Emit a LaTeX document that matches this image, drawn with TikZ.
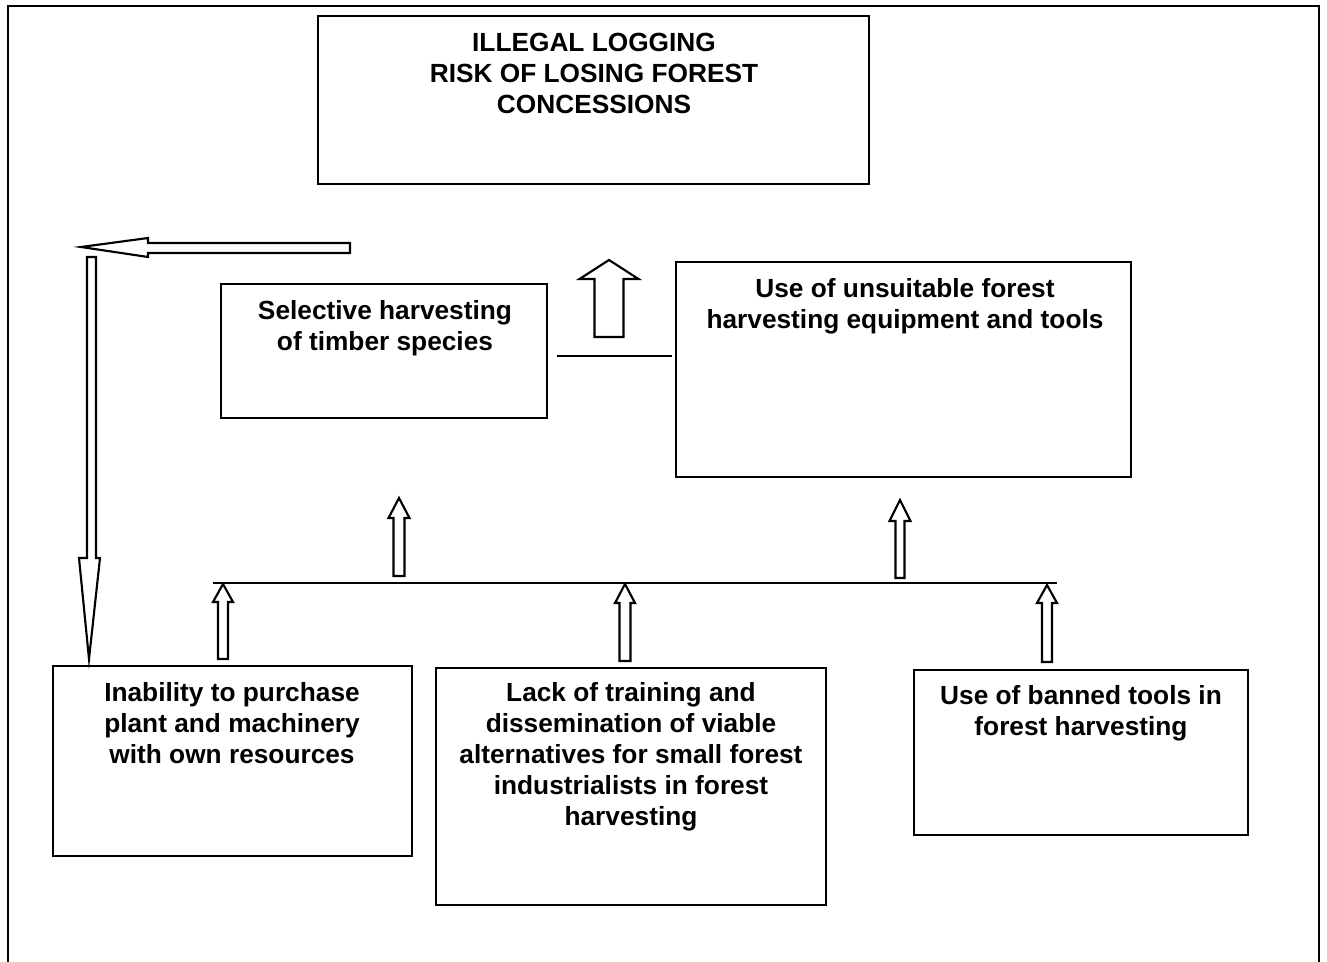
\documentclass[tikz,border=0pt]{standalone}
\usepackage{fontspec}
\setmainfont{Liberation Sans}
\usetikzlibrary{fit}
\newcommand\blockup[6]{%
  \draw[blockarr] (#1,#2) -- (#1+#5,#3) -- (#1+#6,#3) -- (#1+#6,#4) -- (#1-#6,#4) -- (#1-#6,#3) -- (#1-#5,#3) -- cycle;}
\begin{document}
\begin{tikzpicture}[x=0.75pt,y=-0.75pt,
  box/.style={draw=black, line width=1.8pt, inner sep=0pt},
  lbl/.style={anchor=north, inner sep=0pt, align=center, font=\fontsize{19.7}{23.25}\selectfont\bfseries},
  blockarr/.style={draw=black, line width=1.6pt, fill=white, line join=miter},
  conn/.style={draw=black, line width=1.5pt}]
\useasboundingbox (0,0) rectangle (1327,962);
% outer frame
\draw[line width=2pt] (8,962) -- (8,6) -- (1319,6) -- (1319,962);
% boxes
\node[box, fit={(318,16) (869,184)}] (top) {};
\node[box, fit={(221,284) (547,418)}] (sel) {};
\node[box, fit={(676,262) (1131,477)}] (use) {};
\node[box, fit={(53,666) (412,856)}] (inab) {};
\node[box, fit={(436,668) (826,905)}] (lack) {};
\node[box, fit={(914,670) (1248,835)}] (ban) {};
% texts
\node[lbl] (ttop) at (594,33) {ILLEGAL LOGGING\\RISK OF LOSING FOREST\\CONCESSIONS};
\node[lbl] (tsel) at (385,300) {Selective harvesting\\of timber species};
\node[lbl] (tuse) at (905,278) {Use of unsuitable forest\\harvesting equipment and tools};
\node[lbl] (tinab) at (232,682) {Inability to purchase\\plant and machinery\\with own resources};
\node[lbl] (tlack) at (631,682) {Lack of training and\\dissemination of viable\\alternatives for small forest\\industrialists in forest\\harvesting};
\node[lbl] (tban) at (1081,685) {Use of banned tools in\\forest harvesting};
% connector between selective and unsuitable
\coordinate (c1) at (557,356);
\coordinate (c2) at (672,356);
\draw[conn] (c1) -- (c2);
% horizontal bar
\coordinate (h1) at (213,583);
\coordinate (h2) at (1057,583);
\draw[conn] (h1) -- (h2);
% block arrows
\blockup{609}{260}{279}{337}{29.5}{14.5}
\blockup{399}{498}{518}{576}{10.5}{5.5}
\blockup{900}{500}{521}{578}{10.5}{4.5}
\blockup{223}{584}{602}{659}{10}{5}
\blockup{625}{584}{603}{661}{10}{5.5}
\blockup{1047}{585}{603}{662}{10}{5}
% left-pointing arrow
\draw[blockarr] (81,247) -- (148,238) -- (148,243) -- (350,243) -- (350,253) -- (148,253) -- (148,257) -- cycle;
% down-pointing arrow
\draw[blockarr] (87,257) -- (96,257) -- (96,558) -- (100,558) -- (89,659) -- (79,558) -- (87,558) -- cycle;
\end{tikzpicture}
\end{document}
